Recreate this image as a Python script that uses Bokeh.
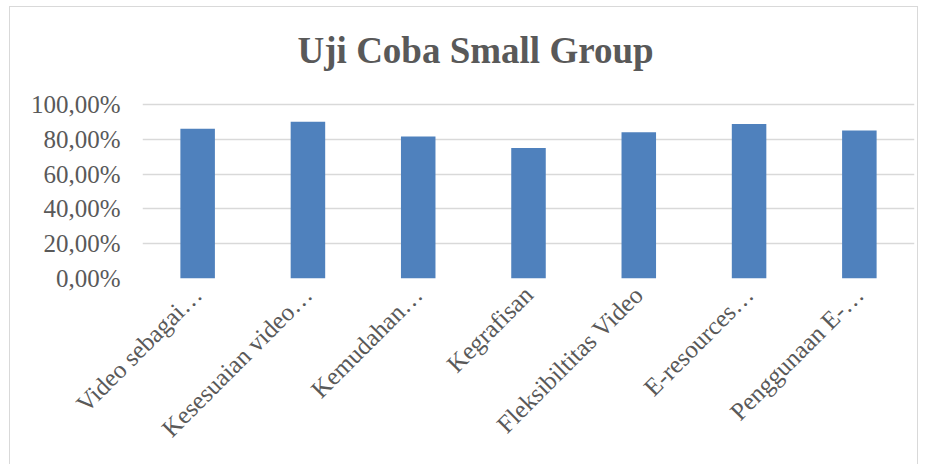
from bokeh.plotting import figure
from bokeh.models import Range1d, FixedTicker, Label, ColumnDataSource
from bokeh.embed import file_html
from bokeh.resources import INLINE
from math import pi

categories = ["Video sebagai…", "Kesesuaian video…", "Kemudahan…", "Kegrafisan",
              "Fleksibiltitas Video", "E-resources…", "Penggunaan E-…"]
values = [0.86, 0.90, 0.816, 0.75, 0.84, 0.888, 0.85]
y_ticks = [0.0, 0.2, 0.4, 0.6, 0.8, 1.0]
y_tick_labels = ["0,00%", "20,00%", "40,00%", "60,00%", "80,00%", "100,00%"]
title_text = "Uji Coba Small Group"

FONT = "Liberation Serif"
GRAY = "#595959"

src = ColumnDataSource(dict(cat=categories, val=values))

# frame extends up to the chart's top edge so the title can sit inside it
p = figure(x_range=categories, y_range=Range1d(0, 1.557), width=909, height=458,
           output_backend="svg", toolbar_location=None,
           min_border_left=132, min_border_right=5, min_border_top=0, min_border_bottom=187)
p.styles = {"border": "1px solid #d9d9d9", "border-bottom": "none",
            "margin-left": "9px", "margin-top": "6px"}
p.outline_line_color = None
p.background_fill_color = "white"
p.border_fill_color = "white"

p.add_layout(Label(x=3.02, y=1.31, text=title_text, text_align="center",
                   text_baseline="alphabetic", text_font=FONT, text_font_style="bold",
                   text_font_size="37px", text_color=GRAY))

p.vbar(x="cat", top="val", width=0.313, source=src, color="#4F81BD", line_color=None,
       level="glyph")

p.yaxis.ticker = FixedTicker(ticks=y_ticks)
p.yaxis.major_label_overrides = {t: l for t, l in zip(y_ticks, y_tick_labels)}
p.yaxis.axis_line_color = None
p.yaxis.major_tick_line_color = None
p.yaxis.minor_tick_line_color = None
p.yaxis.major_label_text_font = FONT
p.yaxis.major_label_text_font_size = "25px"
p.yaxis.major_label_text_color = GRAY
p.yaxis.major_label_standoff = 16

p.xaxis.axis_line_color = None
p.xaxis.major_tick_line_color = None
p.xaxis.minor_tick_line_color = None
p.xaxis.major_label_orientation = pi / 4
p.xaxis.major_label_text_font = FONT
p.xaxis.major_label_text_font_size = "25px"
p.xaxis.major_label_text_color = GRAY
p.xaxis.major_label_standoff = 6

p.xgrid.grid_line_color = None
p.ygrid.grid_line_color = "#d9d9d9"
p.ygrid.grid_line_width = 1.5
p.ygrid.level = "underlay"
p.ygrid.ticker = FixedTicker(ticks=y_ticks)

open("out.html", "w").write(file_html(p, INLINE))
